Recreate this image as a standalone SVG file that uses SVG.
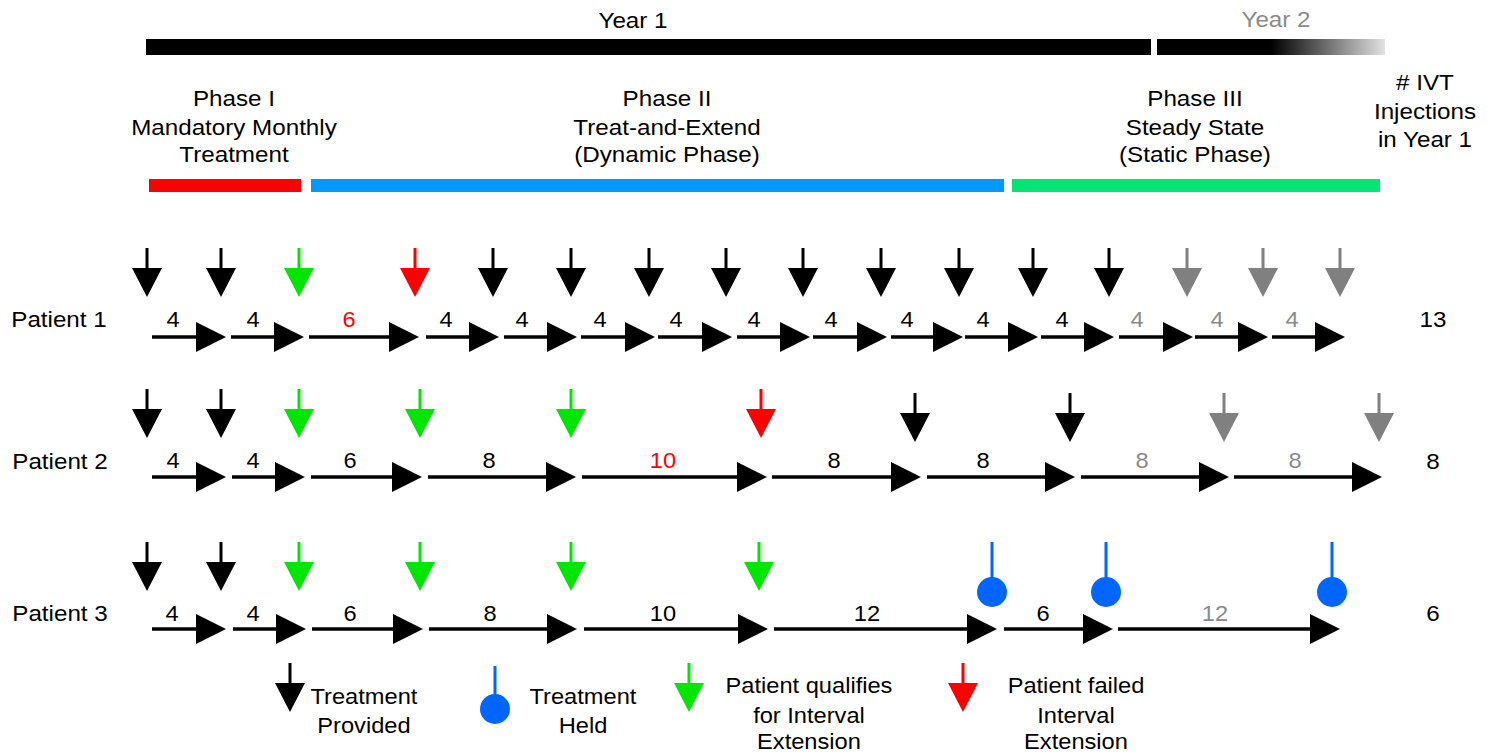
<svg xmlns="http://www.w3.org/2000/svg" xmlns:xlink="http://www.w3.org/1999/xlink" width="1499" height="756" viewBox="0 0 1499 756">
<style>
text { font-family: "Liberation Sans", Arial, sans-serif; text-anchor: middle; fill: #000; transform-box: fill-box; transform-origin: center; transform: scaleX(1.1); }
.h { font-size: 22px; }
.n { font-size: 21.5px; }
.lg { font-size: 21.5px; }
.gt { fill: #8a8a8a; }
.rt { fill: #ff0000; }
.tl { fill: none; stroke: #000; stroke-width: 3.5; marker-end: url(#ah); }
.hold line { stroke: #0066ff; stroke-width: 3; }
.hold circle { fill: #0066ff; }
</style>
<defs>
<path id="dn" d="M-1.5,0 H1.5 V20 H15 L0,49 L-15,20 H-1.5 Z"/>
<marker id="ah" viewBox="0 0 30 30" markerWidth="30" markerHeight="30" refX="15" refY="15" orient="auto" markerUnits="userSpaceOnUse">
<path d="M0,0 L30,15 L0,30 Z" fill="#000"/>
</marker>
<linearGradient id="fade" x1="0" y1="0" x2="1" y2="0">
<stop offset="0" stop-color="#000"/>
<stop offset="0.5" stop-color="#000"/>
<stop offset="1" stop-color="#e2e2e2"/>
</linearGradient>
</defs>
<rect width="1499" height="756" fill="#fff"/>

<g id="years">
<rect x="146" y="39" width="1005" height="16" fill="#000"/>
<rect x="1157" y="39" width="228" height="16" fill="url(#fade)"/>
<text class="h" x="633" y="28">Year 1</text>
<text class="h gt" x="1276" y="27">Year 2</text>
</g>

<g id="phase1">
<text class="h" x="234" y="106">Phase I</text>
<text class="h" x="234" y="135">Mandatory Monthly</text>
<text class="h" x="234" y="162">Treatment</text>
<rect x="149" y="179" width="152" height="13" fill="#ff0000"/>
</g>
<g id="phase2">
<text class="h" x="667" y="106">Phase II</text>
<text class="h" x="667" y="135">Treat-and-Extend</text>
<text class="h" x="667" y="162">(Dynamic Phase)</text>
<rect x="311" y="179" width="693" height="13" fill="#0099ff"/>
</g>
<g id="phase3">
<text class="h" x="1195" y="106">Phase III</text>
<text class="h" x="1195" y="135">Steady State</text>
<text class="h" x="1195" y="162">(Static Phase)</text>
<rect x="1012" y="179" width="368" height="13" fill="#00e676"/>
</g>
<g id="ivt-header">
<text class="h" x="1425" y="90"># IVT</text>
<text class="h" x="1425" y="119">Injections</text>
<text class="h" x="1425" y="147">in Year 1</text>
</g>

<g id="patient1">
<text class="h" x="59" y="327">Patient 1</text>
<text class="h" x="1433" y="327">13</text>
<use href="#dn" x="147" y="248" fill="#000"/>
<use href="#dn" x="221" y="248" fill="#000"/>
<use href="#dn" x="299" y="248" fill="#00e600"/>
<use href="#dn" x="415" y="248" fill="#ff0000"/>
<use href="#dn" x="493" y="248" fill="#000"/>
<use href="#dn" x="571" y="248" fill="#000"/>
<use href="#dn" x="649" y="248" fill="#000"/>
<use href="#dn" x="726" y="248" fill="#000"/>
<use href="#dn" x="803" y="248" fill="#000"/>
<use href="#dn" x="881" y="248" fill="#000"/>
<use href="#dn" x="959" y="248" fill="#000"/>
<use href="#dn" x="1033" y="248" fill="#000"/>
<use href="#dn" x="1109" y="248" fill="#000"/>
<use href="#dn" x="1187" y="248" fill="#808080"/>
<use href="#dn" x="1263" y="248" fill="#808080"/>
<use href="#dn" x="1340" y="248" fill="#808080"/>
<text class="n" x="173" y="327">4</text>
<text class="n" x="253" y="327">4</text>
<text class="n rt" x="349" y="327">6</text>
<text class="n" x="446" y="327">4</text>
<text class="n" x="522" y="327">4</text>
<text class="n" x="600" y="327">4</text>
<text class="n" x="676" y="327">4</text>
<text class="n" x="754" y="327">4</text>
<text class="n" x="831" y="327">4</text>
<text class="n" x="907" y="327">4</text>
<text class="n" x="983" y="327">4</text>
<text class="n" x="1062" y="327">4</text>
<text class="n gt" x="1137" y="327">4</text>
<text class="n gt" x="1217" y="327">4</text>
<text class="n gt" x="1292" y="327">4</text>
</g>

<g id="patient2">
<text class="h" x="60" y="469">Patient 2</text>
<text class="h" x="1433" y="469">8</text>
<use href="#dn" x="147" y="389" fill="#000"/>
<use href="#dn" x="221" y="389" fill="#000"/>
<use href="#dn" x="299" y="389" fill="#00e600"/>
<use href="#dn" x="420" y="389" fill="#00e600"/>
<use href="#dn" x="571" y="389" fill="#00e600"/>
<use href="#dn" x="761" y="389" fill="#ff0000"/>
<use href="#dn" x="915" y="393" fill="#000"/>
<use href="#dn" x="1070" y="393" fill="#000"/>
<use href="#dn" x="1224" y="393" fill="#808080"/>
<use href="#dn" x="1379" y="393" fill="#808080"/>
<text class="n" x="173" y="468">4</text>
<text class="n" x="253" y="468">4</text>
<text class="n" x="350" y="468">6</text>
<text class="n" x="489" y="468">8</text>
<text class="n rt" x="663" y="468">10</text>
<text class="n" x="834" y="468">8</text>
<text class="n" x="983" y="468">8</text>
<text class="n gt" x="1142" y="468">8</text>
<text class="n gt" x="1295" y="468">8</text>
</g>

<g id="patient3">
<text class="h" x="60" y="621">Patient 3</text>
<text class="h" x="1433" y="621">6</text>
<use href="#dn" x="147" y="542" fill="#000"/>
<use href="#dn" x="221" y="542" fill="#000"/>
<use href="#dn" x="299" y="542" fill="#00e600"/>
<use href="#dn" x="420" y="542" fill="#00e600"/>
<use href="#dn" x="571" y="542" fill="#00e600"/>
<use href="#dn" x="759" y="542" fill="#00e600"/>
<g class="hold"><line x1="992" y1="542" x2="992" y2="582"/><circle cx="992" cy="592" r="15"/></g>
<g class="hold"><line x1="1106" y1="542" x2="1106" y2="582"/><circle cx="1106" cy="592" r="15"/></g>
<g class="hold"><line x1="1332" y1="542" x2="1332" y2="582"/><circle cx="1332" cy="592" r="15"/></g>
<text class="n" x="172" y="621">4</text>
<text class="n" x="253" y="621">4</text>
<text class="n" x="350" y="621">6</text>
<text class="n" x="490" y="621">8</text>
<text class="n" x="663" y="621">10</text>
<text class="n" x="867" y="621">12</text>
<text class="n" x="1043" y="621">6</text>
<text class="n gt" x="1215" y="621">12</text>
</g>

<g id="connectors">
<path class="tl" d="M152,337 H211"/>
<path class="tl" d="M231,337 H289"/>
<path class="tl" d="M309,337 H404"/>
<path class="tl" d="M426,337 H484"/>
<path class="tl" d="M504,337 H562"/>
<path class="tl" d="M581,337 H640"/>
<path class="tl" d="M658,337 H717"/>
<path class="tl" d="M737,337 H795"/>
<path class="tl" d="M813,337 H872"/>
<path class="tl" d="M891,337 H948"/>
<path class="tl" d="M965,337 H1023"/>
<path class="tl" d="M1041,337 H1099"/>
<path class="tl" d="M1119,337 H1178"/>
<path class="tl" d="M1195,337 H1253"/>
<path class="tl" d="M1272,337 H1330"/>

<path class="tl" d="M152,477 H211"/>
<path class="tl" d="M232,477 H290"/>
<path class="tl" d="M311,477 H407"/>
<path class="tl" d="M428,477 H561"/>
<path class="tl" d="M582,477 H752"/>
<path class="tl" d="M772,477 H906"/>
<path class="tl" d="M927,477 H1060"/>
<path class="tl" d="M1081,477 H1214"/>
<path class="tl" d="M1234,477 H1367"/>

<path class="tl" d="M152,629 H211"/>
<path class="tl" d="M233,629 H291"/>
<path class="tl" d="M312,629 H408"/>
<path class="tl" d="M429,629 H562"/>
<path class="tl" d="M584,629 H753"/>
<path class="tl" d="M774,629 H982"/>
<path class="tl" d="M1004,629 H1098"/>
<path class="tl" d="M1118,629 H1325"/>
</g>

<g id="legend-provided">
<use href="#dn" x="290" y="663" fill="#000"/>
<text class="lg" x="364" y="704">Treatment</text>
<text class="lg" x="364" y="733">Provided</text>
</g>
<g id="legend-held">
<g class="hold"><line x1="495" y1="666" x2="495" y2="700"/><circle cx="495" cy="709" r="15"/></g>
<text class="lg" x="583" y="704">Treatment</text>
<text class="lg" x="583" y="733">Held</text>
</g>
<g id="legend-qualifies">
<use href="#dn" x="689" y="663" fill="#00e600"/>
<text class="lg" x="809" y="693">Patient qualifies</text>
<text class="lg" x="809" y="723">for Interval</text>
<text class="lg" x="809" y="749">Extension</text>
</g>
<g id="legend-failed">
<use href="#dn" x="963" y="663" fill="#ff0000"/>
<text class="lg" x="1076" y="693">Patient failed</text>
<text class="lg" x="1076" y="723">Interval</text>
<text class="lg" x="1076" y="749">Extension</text>
</g>
</svg>
